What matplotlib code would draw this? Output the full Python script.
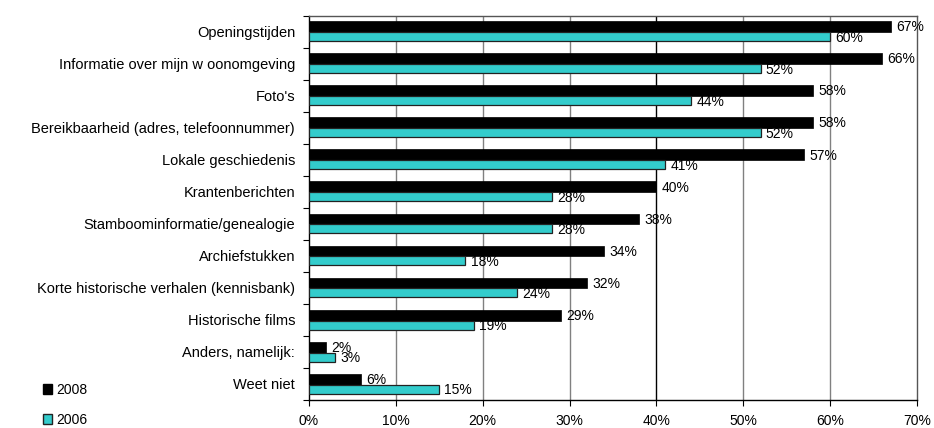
import matplotlib
matplotlib.use("Agg")
import matplotlib.pyplot as plt
import numpy as np
from matplotlib.patches import Patch

plt.rcParams['font.family'] = ['Liberation Sans', 'DejaVu Sans']

categories = ["Openingstijden", "Informatie over mijn w oonomgeving", "Foto's",
              "Bereikbaarheid (adres, telefoonnummer)", "Lokale geschiedenis",
              "Krantenberichten", "Stamboominformatie/genealogie", "Archiefstukken",
              "Korte historische verhalen (kennisbank)", "Historische films",
              "Anders, namelijk:", "Weet niet"]
v2008 = [67, 66, 58, 58, 57, 40, 38, 34, 32, 29, 2, 6]
v2006 = [60, 52, 44, 52, 41, 28, 28, 18, 24, 19, 3, 15]
xticks = [0, 10, 20, 30, 40, 50, 60, 70]

fig = plt.figure(figsize=(9.34, 4.28), dpi=100)
ax = fig.add_axes([309/934, 1-400/428, (917-309)/934, (400-15.5)/428])

y = np.arange(len(categories))
cyan = '#33CCCC'
ax.barh(y - 0.15, v2008, height=0.34, color='black', edgecolor='black', linewidth=0.5, zorder=3)
ax.barh(y + 0.16, v2006, height=0.28, color=cyan, edgecolor='#222222', linewidth=0.9, zorder=3)

fs = 10
for yi, a, b in zip(y, v2008, v2006):
    ax.text(a + 0.6, yi - 0.13, f"{a}%", va='center', ha='left', fontsize=fs, zorder=4)
    ax.text(b + 0.6, yi + 0.2, f"{b}%", va='center', ha='left', fontsize=fs, zorder=4)

ax.set_xlim(0, 70)
ax.set_ylim(len(categories) - 0.5, -0.5)
ax.set_xticks(xticks)
ax.set_xticklabels([f"{t}%" for t in xticks], fontsize=fs)
ax.set_yticks(y)
ax.set_yticklabels(categories, fontsize=10.5)
ax.set_yticks(np.arange(-0.5, len(categories) + 0.5, 1), minor=True)
ax.tick_params(axis='y', which='major', length=0, pad=10)
ax.tick_params(axis='y', which='minor', length=4, width=0.8, direction='out')
ax.tick_params(axis='x', which='major', length=4, width=0.8, direction='out', pad=6)

for t in xticks[1:-1]:
    ax.axvline(t, color='black' if t == 40 else '#808080', linewidth=1.0, zorder=1)

for s in ['top', 'right']:
    ax.spines[s].set_color('#555555')
    ax.spines[s].set_linewidth(1.0)
for s in ['left', 'bottom']:
    ax.spines[s].set_color('black')
    ax.spines[s].set_linewidth(1.0)

handles = [Patch(facecolor='black', edgecolor='black', label='2008'),
           Patch(facecolor=cyan, edgecolor='#222222', label='2006')]
fig.legend(handles=handles, loc='lower left', bbox_to_anchor=(33/934, -0.02),
           frameon=False, fontsize=fs, handlelength=0.7, handleheight=0.7,
           handletextpad=0.3, labelspacing=1.15, borderpad=0.2)

fig.savefig("out.png", dpi=100)
